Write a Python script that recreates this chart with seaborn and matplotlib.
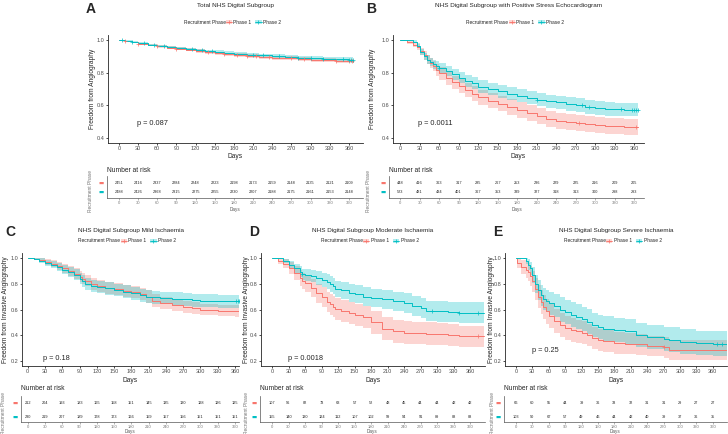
import numpy as np
import pandas as pd
import matplotlib
matplotlib.use("Agg")
import matplotlib.pyplot as plt
import seaborn as sns
from matplotlib.patches import Patch
from matplotlib.lines import Line2D

sns.set_style("ticks")
plt.rcParams['font.family'] = ['Liberation Sans', 'DejaVu Sans']

RED = "#F8766D"
CYAN = "#00BFC4"

# ---------------- data ----------------
risk_days = [0, 30, 60, 90, 120, 150, 180, 210, 240, 270, 300, 330, 360]

# Panel A
A_days = [0, 10, 20, 30, 45, 60, 75, 90, 105, 120, 135, 150, 165, 180, 200, 220, 240, 260, 280, 300, 320, 340, 360, 366]
A_p1 = [1.0, 0.993, 0.985, 0.977, 0.968, 0.960, 0.953, 0.947, 0.940, 0.932, 0.925, 0.918, 0.912, 0.906, 0.901, 0.897, 0.892, 0.888, 0.884, 0.880, 0.876, 0.872, 0.869, 0.868]
A_p1_lo = [1.0, 0.990, 0.980, 0.971, 0.961, 0.952, 0.945, 0.938, 0.930, 0.922, 0.915, 0.907, 0.901, 0.895, 0.890, 0.885, 0.880, 0.876, 0.872, 0.868, 0.864, 0.860, 0.857, 0.856]
A_p1_hi = [1.0, 0.996, 0.990, 0.983, 0.975, 0.968, 0.961, 0.956, 0.950, 0.942, 0.935, 0.929, 0.923, 0.917, 0.912, 0.909, 0.904, 0.900, 0.896, 0.892, 0.888, 0.884, 0.881, 0.880]
A_p2 = [1.0, 0.994, 0.987, 0.979, 0.970, 0.962, 0.956, 0.950, 0.943, 0.936, 0.930, 0.925, 0.920, 0.915, 0.910, 0.905, 0.900, 0.896, 0.892, 0.889, 0.886, 0.883, 0.880, 0.879]
A_p2_lo = [1.0, 0.991, 0.982, 0.973, 0.963, 0.954, 0.948, 0.941, 0.934, 0.926, 0.920, 0.914, 0.909, 0.904, 0.899, 0.894, 0.889, 0.884, 0.880, 0.877, 0.874, 0.871, 0.867, 0.866]
A_p2_hi = [1.0, 0.997, 0.992, 0.985, 0.977, 0.970, 0.964, 0.959, 0.952, 0.946, 0.940, 0.936, 0.931, 0.926, 0.921, 0.916, 0.911, 0.908, 0.904, 0.901, 0.898, 0.895, 0.893, 0.892]
A_cens_p1 = [10, 30, 60, 90, 140, 165, 185, 200, 215, 235, 270, 290, 340, 360, 365]
A_cens_p2 = [5, 20, 40, 55, 70, 115, 130, 145, 210, 225, 250, 280, 300, 320, 350, 360, 363, 366]
A_risk_p1 = [2451, 2416, 2337, 2284, 2248, 2223, 2198, 2173, 2159, 2148, 2135, 2121, 2109]
A_risk_p2 = [2488, 2426, 2368, 2315, 2275, 2255, 2230, 2207, 2188, 2175, 2161, 2153, 2148]

# Panel B
B_days = [0, 10, 20, 26, 31, 36, 41, 46, 50, 55, 60, 70, 80, 90, 100, 110, 120, 135, 150, 165, 180, 195, 210, 225, 240, 255, 270, 285, 300, 315, 330, 345, 366]
B_p1 = [1.0, 0.985, 0.97, 0.955, 0.93, 0.905, 0.88, 0.86, 0.84, 0.815, 0.795, 0.765, 0.74, 0.72, 0.695, 0.672, 0.65, 0.628, 0.61, 0.59, 0.572, 0.555, 0.537, 0.518, 0.503, 0.497, 0.49, 0.486, 0.481, 0.476, 0.471, 0.468, 0.466]
B_p1_lo = [1.0, 0.974, 0.954, 0.936, 0.907, 0.879, 0.851, 0.829, 0.807, 0.780, 0.758, 0.726, 0.699, 0.678, 0.652, 0.628, 0.605, 0.582, 0.563, 0.543, 0.524, 0.507, 0.488, 0.469, 0.454, 0.448, 0.441, 0.437, 0.432, 0.427, 0.422, 0.419, 0.417]
B_p1_hi = [1.0, 0.996, 0.986, 0.974, 0.953, 0.931, 0.909, 0.891, 0.873, 0.850, 0.832, 0.804, 0.781, 0.762, 0.738, 0.716, 0.695, 0.674, 0.657, 0.637, 0.620, 0.603, 0.586, 0.567, 0.552, 0.546, 0.539, 0.535, 0.530, 0.525, 0.520, 0.517, 0.515]
B_p2 = [1.0, 1.0, 0.99, 0.965, 0.925, 0.90, 0.88, 0.865, 0.85, 0.84, 0.83, 0.81, 0.79, 0.77, 0.75, 0.735, 0.715, 0.70, 0.685, 0.672, 0.66, 0.648, 0.635, 0.625, 0.618, 0.61, 0.60, 0.588, 0.583, 0.578, 0.575, 0.574, 0.573]
B_p2_lo = [1.0, 1.0, 0.981, 0.950, 0.905, 0.877, 0.855, 0.838, 0.822, 0.811, 0.800, 0.779, 0.757, 0.736, 0.715, 0.699, 0.678, 0.662, 0.646, 0.633, 0.620, 0.607, 0.594, 0.584, 0.576, 0.568, 0.558, 0.546, 0.541, 0.536, 0.533, 0.532, 0.531]
B_p2_hi = [1.0, 1.0, 0.998, 0.980, 0.945, 0.923, 0.905, 0.892, 0.878, 0.869, 0.860, 0.841, 0.823, 0.804, 0.785, 0.771, 0.752, 0.738, 0.724, 0.711, 0.700, 0.689, 0.676, 0.666, 0.660, 0.652, 0.642, 0.630, 0.625, 0.620, 0.617, 0.616, 0.615]
B_cens_p1 = [275, 362]
B_cens_p2 = [60, 210, 280, 290, 340, 356, 360, 363, 366]
B_risk_p1 = [448, 416, 363, 317, 285, 267, 253, 236, 229, 225, 216, 209, 205]
B_risk_p2 = [523, 481, 434, 401, 367, 353, 339, 327, 318, 313, 300, 298, 293]

# Panel C
C_days = [0, 10, 20, 30, 40, 50, 60, 70, 80, 90, 95, 100, 110, 120, 135, 150, 165, 180, 195, 205, 215, 230, 250, 270, 285, 300, 330, 360, 367]
C_p1 = [1.0, 0.995, 0.985, 0.97, 0.955, 0.94, 0.92, 0.90, 0.88, 0.855, 0.84, 0.825, 0.80, 0.785, 0.77, 0.758, 0.745, 0.735, 0.72, 0.70, 0.67, 0.65, 0.635, 0.62, 0.61, 0.60, 0.592, 0.587, 0.585]
C_p1_lo = [1.0, 0.986, 0.968, 0.948, 0.928, 0.909, 0.885, 0.862, 0.839, 0.812, 0.796, 0.78, 0.754, 0.738, 0.723, 0.71, 0.697, 0.687, 0.672, 0.652, 0.623, 0.603, 0.589, 0.574, 0.565, 0.555, 0.547, 0.542, 0.54]
C_p1_hi = [1.0, 1.0, 1.0, 0.992, 0.982, 0.971, 0.955, 0.938, 0.921, 0.898, 0.884, 0.87, 0.846, 0.832, 0.817, 0.806, 0.793, 0.783, 0.768, 0.748, 0.717, 0.697, 0.681, 0.666, 0.655, 0.645, 0.637, 0.632, 0.63]
C_p2 = [1.0, 0.995, 0.98, 0.965, 0.95, 0.93, 0.91, 0.89, 0.87, 0.84, 0.82, 0.80, 0.785, 0.775, 0.765, 0.752, 0.738, 0.725, 0.71, 0.70, 0.695, 0.69, 0.685, 0.68, 0.672, 0.667, 0.665, 0.665, 0.665]
C_p2_lo = [1.0, 0.986, 0.962, 0.942, 0.922, 0.898, 0.874, 0.851, 0.828, 0.795, 0.774, 0.753, 0.737, 0.726, 0.716, 0.702, 0.688, 0.675, 0.66, 0.65, 0.645, 0.64, 0.635, 0.63, 0.622, 0.617, 0.615, 0.615, 0.615]
C_p2_hi = [1.0, 1.0, 0.998, 0.988, 0.978, 0.962, 0.946, 0.929, 0.912, 0.885, 0.866, 0.847, 0.833, 0.824, 0.814, 0.802, 0.788, 0.775, 0.76, 0.75, 0.745, 0.74, 0.735, 0.73, 0.722, 0.717, 0.715, 0.715, 0.715]
C_cens_p1 = []
C_cens_p2 = [362, 365, 367]
C_risk_p1 = [212, 204, 193, 183, 165, 158, 151, 145, 135, 130, 128, 126, 125]
C_risk_p2 = [230, 219, 207, 189, 178, 173, 166, 159, 157, 156, 151, 151, 151]

# Panel D
D_days = [0, 10, 20, 30, 40, 50, 55, 60, 70, 80, 90, 100, 105, 110, 115, 125, 140, 150, 165, 180, 200, 220, 240, 255, 270, 280, 300, 320, 340, 360, 386]
D_p1 = [1.0, 0.98, 0.955, 0.925, 0.885, 0.845, 0.825, 0.805, 0.77, 0.725, 0.70, 0.66, 0.64, 0.62, 0.605, 0.59, 0.575, 0.56, 0.54, 0.50, 0.45, 0.43, 0.42, 0.418, 0.415, 0.413, 0.41, 0.40, 0.39, 0.39, 0.39]
D_p1_lo = [1.0, 0.955, 0.92, 0.88, 0.83, 0.785, 0.762, 0.739, 0.70, 0.651, 0.623, 0.58, 0.559, 0.538, 0.522, 0.506, 0.49, 0.474, 0.453, 0.412, 0.362, 0.342, 0.333, 0.331, 0.329, 0.327, 0.324, 0.315, 0.305, 0.305, 0.305]
D_p1_hi = [1.0, 1.0, 0.99, 0.97, 0.94, 0.905, 0.888, 0.871, 0.84, 0.799, 0.777, 0.74, 0.721, 0.702, 0.688, 0.674, 0.66, 0.646, 0.627, 0.588, 0.538, 0.518, 0.507, 0.505, 0.501, 0.499, 0.496, 0.485, 0.475, 0.475, 0.475]
D_p2 = [1.0, 1.0, 0.98, 0.95, 0.92, 0.895, 0.875, 0.87, 0.86, 0.845, 0.83, 0.815, 0.80, 0.78, 0.76, 0.75, 0.73, 0.72, 0.70, 0.69, 0.68, 0.665, 0.65, 0.63, 0.61, 0.59, 0.585, 0.58, 0.575, 0.575, 0.575]
D_p2_lo = [1.0, 1.0, 0.965, 0.925, 0.887, 0.855, 0.832, 0.825, 0.812, 0.793, 0.775, 0.757, 0.74, 0.718, 0.696, 0.684, 0.662, 0.65, 0.628, 0.617, 0.606, 0.59, 0.574, 0.553, 0.532, 0.511, 0.505, 0.50, 0.495, 0.495, 0.495]
D_p2_hi = [1.0, 1.0, 0.995, 0.975, 0.953, 0.935, 0.918, 0.915, 0.908, 0.897, 0.885, 0.873, 0.86, 0.842, 0.824, 0.816, 0.798, 0.79, 0.772, 0.763, 0.754, 0.74, 0.726, 0.707, 0.688, 0.669, 0.665, 0.66, 0.655, 0.655, 0.655]
D_cens_p1 = [375]
D_cens_p2 = [55, 290, 340, 375]
D_risk_p1 = [107, 96, 82, 73, 63, 57, 52, 48, 45, 44, 44, 42, 42]
D_risk_p2 = [155, 140, 130, 124, 112, 107, 102, 99, 94, 91, 89, 88, 88]

# Panel E
E_days = [0, 2, 10, 18, 22, 26, 30, 35, 40, 45, 50, 55, 60, 70, 80, 90, 100, 110, 120, 130, 140, 150, 160, 180, 200, 220, 240, 270, 280, 300, 330, 360, 386]
E_p1 = [1.0, 0.96, 0.93, 0.91, 0.89, 0.86, 0.82, 0.76, 0.70, 0.66, 0.62, 0.585, 0.55, 0.51, 0.48, 0.455, 0.44, 0.43, 0.42, 0.40, 0.38, 0.365, 0.355, 0.34, 0.335, 0.33, 0.315, 0.305, 0.285, 0.285, 0.285, 0.285, 0.285]
E_p1_lo = [1.0, 0.92, 0.875, 0.845, 0.82, 0.785, 0.74, 0.675, 0.61, 0.568, 0.526, 0.49, 0.455, 0.415, 0.387, 0.363, 0.35, 0.341, 0.332, 0.313, 0.294, 0.28, 0.27, 0.256, 0.252, 0.248, 0.234, 0.225, 0.207, 0.207, 0.207, 0.207, 0.207]
E_p1_hi = [1.0, 1.0, 0.985, 0.975, 0.96, 0.935, 0.90, 0.845, 0.79, 0.752, 0.714, 0.68, 0.645, 0.605, 0.573, 0.547, 0.53, 0.519, 0.508, 0.487, 0.466, 0.45, 0.44, 0.424, 0.418, 0.412, 0.396, 0.385, 0.363, 0.363, 0.363, 0.363, 0.363]
E_p2 = [1.0, 1.0, 1.0, 0.98, 0.95, 0.92, 0.87, 0.80, 0.75, 0.71, 0.685, 0.665, 0.65, 0.63, 0.60, 0.58, 0.56, 0.545, 0.525, 0.505, 0.48, 0.465, 0.45, 0.44, 0.43, 0.40, 0.385, 0.37, 0.365, 0.35, 0.34, 0.335, 0.335]
E_p2_lo = [1.0, 1.0, 1.0, 0.955, 0.91, 0.87, 0.81, 0.73, 0.672, 0.627, 0.599, 0.577, 0.56, 0.538, 0.506, 0.485, 0.464, 0.449, 0.429, 0.409, 0.384, 0.369, 0.354, 0.344, 0.334, 0.305, 0.29, 0.275, 0.27, 0.255, 0.245, 0.24, 0.24]
E_p2_hi = [1.0, 1.0, 1.0, 1.0, 0.99, 0.97, 0.93, 0.87, 0.828, 0.793, 0.771, 0.753, 0.74, 0.722, 0.694, 0.675, 0.656, 0.641, 0.621, 0.601, 0.576, 0.561, 0.546, 0.536, 0.526, 0.495, 0.48, 0.465, 0.46, 0.445, 0.435, 0.43, 0.43]
E_cens_p1 = [270]
E_cens_p2 = [368, 376]
E_risk_p1 = [66, 60, 55, 44, 39, 36, 33, 32, 31, 31, 29, 27, 27]
E_risk_p2 = [103, 90, 67, 57, 49, 46, 44, 42, 40, 39, 37, 36, 35]

titles = {
    "A": "Total NHS Digital Subgroup",
    "B": "NHS Digital Subgroup with Positive Stress Echocardiogram",
    "C": "NHS Digital Subgroup Mild Ischaemia",
    "D": "NHS Digital Subgroup Moderate Ischaemia",
    "E": "NHS Digital Subgroup Severe Ischaemia",
}
pvals = {"A": "p = 0.087", "B": "p = 0.0011", "C": "p = 0.18", "D": "p = 0.0018", "E": "p = 0.25"}
ylabels = {"A": "Freedom from Angiography", "B": "Freedom from Angiography",
           "C": "Freedom from Invasive Angiography", "D": "Freedom from Invasive Angiography",
           "E": "Freedom from Invasive Angiography"}

# ---------------- layout (pixels) ----------------
W, H = 728, 434
fig = plt.figure(figsize=(W / 100, H / 100), dpi=100)


def rect(x0, y0, x1, y1):
    return [x0 / W, 1 - y1 / H, (x1 - x0) / W, (y1 - y0) / H]


def px(x, y):
    return (x / W, 1 - y / H)


layout = {
    "A": dict(main=(108, 35, 363, 143), xlim=(-17, 382), ylim=(0.37, 1.03), yt=[0.4, 0.6, 0.8, 1.0],
              table=(107, 176, 363, 198), tylim=(-0.67, 1.78), letter=(86, 9), ty=5, ly=22, nary=170,
              ylx=93, rpx=90, pp=(28, 0.49), daysy=157, tdaysy=210),
    "B": dict(main=(393, 35, 644, 143), xlim=(-11, 375), ylim=(0.37, 1.03), yt=[0.4, 0.6, 0.8, 1.0],
              table=(389, 176, 644, 198), tylim=(-0.67, 1.78), letter=(366, 9), ty=5, ly=22, nary=170,
              ylx=372, rpx=368, pp=(28, 0.49), daysy=157, tdaysy=210),
    "C": dict(main=(22, 253, 239, 366), xlim=(-10, 367), ylim=(0.16, 1.04), yt=[0.2, 0.4, 0.6, 0.8, 1.0],
              table=(21, 396, 239, 422), tylim=(-0.36, 1.5), letter=(5, 232), ty=230, ly=241, nary=389,
              ylx=6, rpx=4, pp=(26, 0.215), daysy=380, tdaysy=431),
    "D": dict(main=(261, 253, 485, 366), xlim=(-20, 387), ylim=(0.16, 1.04), yt=[0.2, 0.4, 0.6, 0.8, 1.0],
              table=(260, 396, 485, 422), tylim=(-0.36, 1.5), letter=(249, 232), ty=230, ly=241, nary=389,
              ylx=247, rpx=247, pp=(29, 0.215), daysy=380, tdaysy=431),
    "E": dict(main=(505, 253, 727, 366), xlim=(-20, 386), ylim=(0.16, 1.04), yt=[0.2, 0.4, 0.6, 0.8, 1.0],
              table=(504, 396, 727, 422), tylim=(-0.36, 1.5), letter=(493, 232), ty=230, ly=241, nary=389,
              ylx=491, rpx=492, pp=(29, 0.28), daysy=380, tdaysy=431),
}

panels = {
    "A": (A_days, A_p1, A_p1_lo, A_p1_hi, A_p2, A_p2_lo, A_p2_hi, A_cens_p1, A_cens_p2, A_risk_p1, A_risk_p2),
    "B": (B_days, B_p1, B_p1_lo, B_p1_hi, B_p2, B_p2_lo, B_p2_hi, B_cens_p1, B_cens_p2, B_risk_p1, B_risk_p2),
    "C": (C_days, C_p1, C_p1_lo, C_p1_hi, C_p2, C_p2_lo, C_p2_hi, C_cens_p1, C_cens_p2, C_risk_p1, C_risk_p2),
    "D": (D_days, D_p1, D_p1_lo, D_p1_hi, D_p2, D_p2_lo, D_p2_hi, D_cens_p1, D_cens_p2, D_risk_p1, D_risk_p2),
    "E": (E_days, E_p1, E_p1_lo, E_p1_hi, E_p2, E_p2_lo, E_p2_hi, E_cens_p1, E_cens_p2, E_risk_p1, E_risk_p2),
}

TICK_FS = 4.0
LAB_FS = 4.8
TXT_GRAY = "#4D4D4D"


def step_value(days, surv, t):
    idx = np.searchsorted(days, t, side="right") - 1
    return np.asarray(surv)[np.clip(idx, 0, len(surv) - 1)]


for key, L in layout.items():
    days, p1, p1lo, p1hi, p2, p2lo, p2hi, c1, c2, r1, r2 = panels[key]
    ax = fig.add_axes(rect(*L["main"]))
    df = pd.DataFrame({
        "Days": list(days) * 2,
        "surv": list(p1) + list(p2),
        "Phase": ["Phase 1"] * len(days) + ["Phase 2"] * len(days),
    })
    for lo, hi, col in [(p1lo, p1hi, RED), (p2lo, p2hi, CYAN)]:
        ax.fill_between(days, lo, hi, step="post", color=col, alpha=0.3, lw=0)
    sns.lineplot(data=df, x="Days", y="surv", hue="Phase", palette=[RED, CYAN],
                 drawstyle="steps-post", estimator=None, lw=0.7, legend=False, ax=ax)
    for cens, d, s, col in [(c1, days, p1, RED), (c2, days, p2, CYAN)]:
        if len(cens):
            ax.scatter(cens, step_value(d, s, cens), marker="+", s=9, lw=0.5, color=col, zorder=5)
    ax.set_xlim(*L["xlim"])
    ax.set_ylim(*L["ylim"])
    ax.set_xticks(risk_days)
    ax.set_yticks(L["yt"])
    ax.set_yticklabels([f"{v:.1f}" for v in L["yt"]])
    ax.tick_params(labelsize=TICK_FS, length=1.5, width=0.5, pad=1, colors="black", labelcolor=TXT_GRAY)
    for s in ["top", "right"]:
        ax.spines[s].set_visible(False)
    for s in ["left", "bottom"]:
        ax.spines[s].set_linewidth(0.6)
    ax.set_xlabel("")
    ax.set_ylabel("")
    ax.text(L["pp"][0], L["pp"][1], pvals[key], fontsize=5.3, ha="left", va="center")

    x0, y0, x1, y1 = L["main"]
    cx = (x0 + x1) / 2
    fig.text(*px(cx, L["ty"]), titles[key], fontsize=4.6, ha="center", va="center")
    fig.text(*px(cx, L["daysy"]), "Days", fontsize=LAB_FS, ha="center", va="center")
    fig.text(*px(L["ylx"], (y0 + y1) / 2), ylabels[key], fontsize=LAB_FS, rotation=90,
             ha="center", va="center")
    fig.text(*px(L["letter"][0], L["letter"][1]), key, fontsize=10, fontweight="bold",
             ha="left", va="center")

    # legend
    h1 = (Patch(facecolor=RED, alpha=0.3, lw=0), Line2D([], [], color=RED, lw=0.6, marker="+", ms=3, mew=0.5))
    h2 = (Patch(facecolor=CYAN, alpha=0.3, lw=0), Line2D([], [], color=CYAN, lw=0.6, marker="+", ms=3, mew=0.5))
    fig.text(*px(cx - 10, L["ly"]), "Recruitment Phase", fontsize=3.5, ha="right", va="center")
    fig.legend([h1, h2], ["Phase 1", "Phase 2"], loc="center left", bbox_to_anchor=px(cx - 10, L["ly"]),
               ncol=2, fontsize=3.5, frameon=False, handlelength=1.3, handleheight=1.0,
               handletextpad=0.3, columnspacing=0.8, borderpad=0, borderaxespad=0)

    # risk table
    tx0, ty0, tx1, ty1 = L["table"]
    tax = fig.add_axes(rect(*L["table"]))
    scale = (L["xlim"][1] - L["xlim"][0]) / (x1 - x0)
    tax.set_xlim(L["xlim"][0] - (x0 - tx0) * scale, L["xlim"][1] + (tx1 - x1) * scale)
    tax.set_ylim(*L["tylim"])
    for t, a, b in zip(risk_days, r1, r2):
        tax.text(t, 1, str(a), fontsize=2.8, ha="center", va="center", color="#222222")
        tax.text(t, 0, str(b), fontsize=2.8, ha="center", va="center", color="#222222")
    tax.set_xticks(risk_days)
    tax.set_yticks([1, 0])
    tax.set_yticklabels(["\u25AC", "\u25AC"], fontsize=4, family="DejaVu Sans")
    for lab, col in zip(tax.get_yticklabels(), [RED, CYAN]):
        lab.set_color(col)
    tax.tick_params(axis="x", labelsize=3.0, length=1.5, width=0.4, pad=1, labelcolor="#777777", colors="#777777")
    tax.tick_params(axis="y", length=0, pad=2)
    for s in ["top", "right"]:
        tax.spines[s].set_visible(False)
    for s in ["left", "bottom"]:
        tax.spines[s].set_linewidth(0.5)
        tax.spines[s].set_color("#555555")
    tax.set_facecolor("none")
    fig.text(*px(tx0, L["nary"]), "Number at risk", fontsize=LAB_FS, ha="left", va="center")
    fig.text(*px((tx0 + tx1) / 2, L["tdaysy"]), "Days", fontsize=3.3, ha="center", va="center", color="#555555")
    fig.text(*px(L["rpx"], (L["nary"] + ty1 + 14) / 2), "Recruitment Phase", fontsize=3.5, rotation=90,
             ha="center", va="center", color="#777777")

fig.savefig("out.png", dpi=100)
